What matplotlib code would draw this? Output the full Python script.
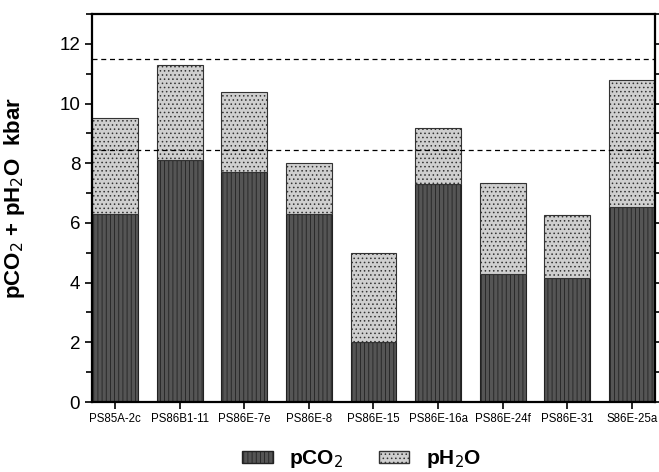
import matplotlib
matplotlib.use("Agg")
import matplotlib.pyplot as plt
from matplotlib.ticker import MultipleLocator
from matplotlib.patches import Patch

samples = ["PS85A-2c", "PS86B1-11", "PS86E-7e", "PS86E-8", "PS86E-15",
           "PS86E-16a", "PS86E-24f", "PS86E-31", "S86E-25a"]
pco2 = [6.3, 8.1, 7.7, 6.3, 2.0, 7.3, 4.28, 4.15, 6.55]
total = [9.5, 11.3, 10.4, 8.0, 5.0, 9.18, 7.35, 6.28, 10.78]
ph2o = [t - c for t, c in zip(total, pco2)]
ref_lines = [11.5, 8.45]

plt.rcParams['font.family'] = ['Liberation Sans', 'DejaVu Sans']
plt.rcParams['hatch.linewidth'] = 0.6

fig = plt.figure(figsize=(6.59, 4.72), dpi=100)
ax = fig.add_axes([0.1396, 0.1483, 0.8543, 0.822])

x = list(range(len(samples)))
co2_col = "#555555"
h2o_col = "#cfcfcf"
ax.bar(x, pco2, width=0.71, color=co2_col, edgecolor="#222222", linewidth=0.8,
       hatch="||||", zorder=2)
ax.bar(x, ph2o, width=0.71, bottom=pco2, color=h2o_col, edgecolor="#333333",
       linewidth=0.8, hatch="....", zorder=2)
for v in ref_lines:
    ax.axhline(v, color="black", linestyle=(0, (4, 3)), linewidth=0.9, zorder=3)

ax.set_xlim(-0.36, 8.36)
ax.set_ylim(0, 13)
ax.set_xticks(x)
ax.set_xticklabels(samples, fontsize=8.3)
ax.yaxis.set_major_locator(MultipleLocator(2))
ax.yaxis.set_minor_locator(MultipleLocator(1))
ax.tick_params(axis='y', which='both', direction='out', right=True, labelsize=13.5,
               width=1.2)
ax.tick_params(axis='y', which='major', length=5)
ax.tick_params(axis='y', which='minor', length=4)
ax.tick_params(axis='x', direction='out', length=5, width=1.2, pad=3)
for s in ax.spines.values():
    s.set_linewidth(1.6)
ax.set_ylabel("pCO$_2$ + pH$_2$O  kbar", fontsize=16, fontweight='bold')
ax.yaxis.set_label_coords(-0.115, 0.526)

handles = [Patch(facecolor=co2_col, edgecolor="#222222", hatch="||||", label="pCO$_2$"),
           Patch(facecolor=h2o_col, edgecolor="#333333", hatch="....", label="pH$_2$O")]
leg = fig.legend(handles=handles, loc="center", bbox_to_anchor=(0.549, 0.027), ncol=2,
                 frameon=False, prop={'size': 15, 'weight': 'bold'},
                 handlelength=1.45, handleheight=0.55, columnspacing=1.7,
                 handletextpad=0.8)

fig.savefig("out.png", dpi=100)
